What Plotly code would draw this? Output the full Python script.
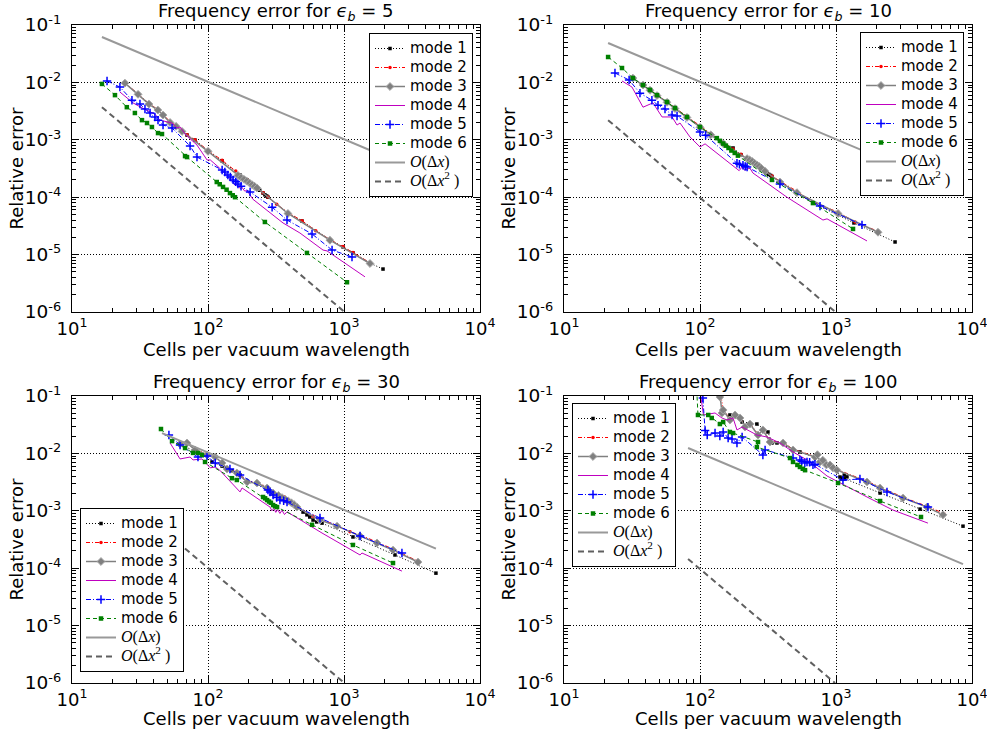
import plotly.graph_objects as go

# ---------------- axis ticks ----------------
X_TICK_VALS = [10, 100, 1000, 10000]
X_TICK_TEXT = ["10<sup>1</sup>", "10<sup>2</sup>", "10<sup>3</sup>", "10<sup>4</sup>"]
Y_TICK_VALS = [1e-6, 1e-5, 1e-4, 1e-3, 1e-2, 1e-1]
Y_TICK_TEXT = ["10<sup>-6</sup>", "10<sup>-5</sup>", "10<sup>-4</sup>",
               "10<sup>-3</sup>", "10<sup>-2</sup>", "10<sup>-1</sup>"]
EPS_VALUES = [5, 10, 30, 100]
SERIES_NAMES = ["mode 1", "mode 2", "mode 3", "mode 4", "mode 5", "mode 6",
                "O(Δx)", "O(Δx²)"]

# ---------------- eps_b = 5 ----------------
e5_m1_x = [24.5, 30.6, 36.8, 42.8, 46.7, 52.6, 58.2, 64.4, 70.1, 80.2, 100, 127, 172, 194, 222, 240, 254, 262, 270, 276, 387, 491, 788, 984, 1164, 1553, 1936]
e5_m1_y = [9.8e-3, 6.3e-3, 4.2e-3, 3.3e-3, 2.7e-3, 2.04e-3, 1.74e-3, 1.42e-3, 1.21e-3, 9.9e-4, 6.4e-4, 4.3e-4, 2.44e-4, 2.0e-4, 1.51e-4, 1.32e-4, 1.18e-4, 1.1e-4, 1.05e-4, 1.0e-4, 5.3e-5, 3.85e-5, 1.8e-5, 1.36e-5, 1.07e-5, 7.1e-6, 5.6e-6]
e5_m2_x = [24.5, 30.6, 36.8, 42.8, 52.6, 58.2, 64.4, 70.1, 80.2, 100, 127, 160, 194, 222, 254, 276, 320, 387, 491, 620, 788, 984, 1164, 1553]
e5_m2_y = [9.9e-3, 6.4e-3, 4.3e-3, 3.35e-3, 2.08e-3, 1.77e-3, 1.45e-3, 1.23e-3, 1.0e-3, 6.5e-4, 4.4e-4, 2.85e-4, 2.02e-4, 1.53e-4, 1.2e-4, 1.01e-4, 7.5e-5, 5.4e-5, 3.9e-5, 2.6e-5, 1.83e-5, 1.38e-5, 1.09e-5, 7.2e-6]
e5_m3_x = [24.5, 30.6, 36.8, 42.8, 46.7, 52.6, 58.2, 64.4, 100, 166, 175, 184, 193, 202, 211, 220, 229, 387, 788, 1553]
e5_m3_y = [9.7e-3, 6.2e-3, 4.2e-3, 3.3e-3, 2.7e-3, 2.0e-3, 1.72e-3, 1.4e-3, 6.3e-4, 2.4e-4, 2.2e-4, 2.05e-4, 1.9e-4, 1.77e-4, 1.65e-4, 1.55e-4, 1.45e-4, 5.2e-5, 1.78e-5, 7.0e-6]
e5_m4_x = [22.5, 28.1, 32.7, 35.6, 40.7, 44.3, 50.0, 54.4, 59.2, 62.3, 68.9, 83.0, 98.4, 104, 122, 153, 158, 163, 172, 178, 186, 194, 214, 356, 474, 701, 750, 1426]
e5_m4_y = [6.8e-3, 4.4e-3, 3.6e-3, 3.3e-3, 2.8e-3, 2.2e-3, 2.04e-3, 1.96e-3, 1.6e-3, 1.67e-3, 1.21e-3, 8.1e-4, 4.45e-4, 4.45e-4, 3.2e-4, 1.84e-4, 1.6e-4, 1.66e-4, 1.42e-4, 1.48e-4, 1.28e-4, 1.3e-4, 9.2e-5, 3.56e-5, 2.38e-5, 1.2e-5, 1.16e-5, 4.1e-6]
e5_m5_x = [18.1, 22.5, 27.6, 31.6, 34.4, 37.5, 40.7, 42.9, 46.7, 54.4, 73.8, 83.0, 127, 133, 140, 146, 153, 160, 166, 175, 204, 296, 381, 582, 817, 1145]
e5_m5_y = [1.06e-2, 8.3e-3, 4.9e-3, 4.2e-3, 3.44e-3, 2.93e-3, 2.5e-3, 2.2e-3, 1.81e-3, 1.6e-3, 7.8e-4, 5.0e-4, 2.98e-4, 2.75e-4, 2.44e-4, 2.25e-4, 2.0e-4, 1.85e-4, 1.7e-4, 1.55e-4, 1.23e-4, 6.7e-5, 4.0e-5, 2.29e-5, 1.2e-5, 9.1e-6]
e5_m6_x = [16.6, 20.7, 25.3, 29.0, 32.7, 35.6, 38.7, 42.9, 45.9, 67.8, 70.1, 116, 122, 129, 137, 145, 152, 158, 262, 534, 1052]
e5_m6_y = [9.4e-3, 6.0e-3, 3.7e-3, 2.93e-3, 2.2e-3, 1.96e-3, 1.67e-3, 1.31e-3, 1.26e-3, 5.2e-4, 5.0e-4, 1.84e-4, 1.68e-4, 1.51e-4, 1.35e-4, 1.18e-4, 1.08e-4, 1.0e-4, 3.7e-5, 1.07e-5, 3.3e-6]
e5_o1_x = [16.6, 2000]
e5_o1_y = [6.17e-2, 5.12e-4]
e5_o2_x = [16.6, 1010]
e5_o2_y = [3.7e-3, 1.0e-6]

# ---------------- eps_b = 10 ----------------
e10_m1_x = [32.1, 38.1, 42.9, 48.3, 57.2, 65.5, 80.2, 100, 120, 148, 175, 200, 222, 262, 300, 310, 320, 330, 338, 677, 1355, 2718]
e10_m1_y = [1.19e-2, 9.0e-3, 7.4e-3, 6.0e-3, 4.56e-3, 3.58e-3, 2.5e-3, 1.7e-3, 1.25e-3, 8.8e-4, 7.2e-4, 5.5e-4, 4.6e-4, 3.6e-4, 2.8e-4, 2.65e-4, 2.5e-4, 2.4e-4, 2.3e-4, 7.9e-5, 3.56e-5, 1.66e-5]
e10_m2_x = [38.1, 42.9, 48.3, 57.2, 65.5, 80.2, 100, 120, 148, 175, 200, 222, 262, 300, 338, 387, 516, 677, 1035, 1380, 2037]
e10_m2_y = [9.1e-3, 7.5e-3, 6.1e-3, 4.6e-3, 3.6e-3, 2.55e-3, 1.7e-3, 1.28e-3, 9.0e-4, 6.9e-4, 5.6e-4, 4.7e-4, 3.7e-4, 2.9e-4, 2.35e-4, 1.9e-4, 1.27e-4, 8.2e-5, 5.5e-5, 3.7e-5, 2.55e-5]
e10_m3_x = [32.1, 38.1, 42.9, 48.3, 57.2, 65.5, 80.2, 100, 120, 148, 222, 232, 242, 252, 262, 272, 282, 300, 387, 516, 1035, 2037]
e10_m3_y = [1.19e-2, 9.0e-3, 7.3e-3, 5.9e-3, 4.5e-3, 3.5e-3, 2.45e-3, 1.65e-3, 1.22e-3, 8.6e-4, 4.7e-4, 4.45e-4, 4.2e-4, 3.9e-4, 3.65e-4, 3.45e-4, 3.2e-4, 2.85e-4, 1.84e-4, 1.2e-4, 5.2e-5, 2.45e-5]
e10_m4_x = [26.7, 31.6, 38.1, 45.1, 52.6, 62.3, 67.8, 71.3, 84.4, 100, 109, 187, 194, 204, 213, 222, 233, 245, 436, 802, 859, 1690]
e10_m4_y = [1.06e-2, 8.3e-3, 3.7e-3, 4.4e-3, 2.5e-3, 2.5e-3, 1.81e-3, 1.96e-3, 1.12e-3, 7.5e-4, 8.5e-4, 3.2e-4, 2.9e-4, 3.36e-4, 2.95e-4, 3.1e-4, 3.2e-4, 2.64e-4, 1.0e-4, 4.0e-5, 4.2e-5, 1.73e-5]
e10_m5_x = [23.7, 30.1, 36.2, 44.3, 49.1, 55.3, 62.3, 67.8, 100, 110, 187, 195, 207, 215, 222, 387, 763, 1553]
e10_m5_y = [1.46e-2, 1.1e-2, 6.5e-3, 4.9e-3, 4.0e-3, 3.44e-3, 2.7e-3, 2.6e-3, 1.37e-3, 1.2e-3, 3.9e-4, 3.75e-4, 3.6e-4, 3.45e-4, 3.36e-4, 1.7e-4, 7.0e-5, 3.3e-5]
e10_m6_x = [21.1, 26.7, 32.1, 38.1, 42.9, 48.3, 57.2, 65.5, 80.2, 100, 133, 140, 148, 155, 162, 170, 180, 190, 338, 677, 1334]
e10_m6_y = [2.77e-2, 1.78e-2, 1.19e-2, 9.0e-3, 7.4e-3, 6.0e-3, 4.56e-3, 3.58e-3, 2.5e-3, 1.67e-3, 1.07e-3, 9.6e-4, 8.6e-4, 7.9e-4, 7.2e-4, 6.5e-4, 5.9e-4, 5.3e-4, 2.0e-4, 7.9e-5, 2.8e-5]
e10_o1_x = [21.1, 2500]
e10_o1_y = [4.85e-2, 4.09e-4]
e10_o2_x = [21.1, 990]
e10_o2_y = [2.2e-3, 1.0e-6]

# ---------------- eps_b = 30 ----------------
e30_m1_x = [62.3, 80.2, 98.4, 107, 127, 150, 172, 194, 229, 272, 301, 381, 451, 500, 534, 560, 592, 630, 689, 1164, 2370, 4742]
e30_m1_y = [1.4e-2, 1.12e-2, 9.2e-3, 7.1e-3, 6.0e-3, 5.0e-3, 4.2e-3, 3.18e-3, 2.9e-3, 2.4e-3, 2.0e-3, 1.5e-3, 1.12e-3, 9.5e-4, 8.5e-4, 7.8e-4, 6.9e-4, 6.4e-4, 6.1e-4, 3.5e-4, 1.7e-4, 8.2e-5]
e30_m2_x = [62.3, 70.1, 80.2, 98.4, 113, 127, 138, 163, 194, 229, 272, 301, 330, 360, 381, 420, 451, 592, 666, 889, 1107, 1312, 1750, 2293, 3500]
e30_m2_y = [1.5e-2, 1.55e-2, 1.2e-2, 9.6e-3, 8.8e-3, 7.0e-3, 5.5e-3, 4.7e-3, 3.3e-3, 3.15e-3, 2.6e-3, 2.1e-3, 1.9e-3, 1.75e-3, 1.6e-3, 1.4e-3, 1.2e-3, 8.0e-4, 7.1e-4, 5.6e-4, 4.3e-4, 3.8e-4, 2.85e-4, 2.15e-4, 1.32e-4]
e30_m3_x = [62.3, 70.1, 80.2, 98.4, 113, 127, 138, 163, 194, 229, 272, 301, 330, 350, 370, 390, 410, 430, 451, 666, 889, 1312, 1750, 2293, 3500]
e30_m3_y = [1.46e-2, 1.52e-2, 1.15e-2, 9.4e-3, 8.65e-3, 6.8e-3, 5.35e-3, 4.56e-3, 3.18e-3, 3.05e-3, 2.5e-3, 2.04e-3, 1.85e-3, 1.7e-3, 1.58e-3, 1.48e-3, 1.38e-3, 1.28e-3, 1.16e-3, 6.9e-4, 5.4e-4, 3.64e-4, 2.75e-4, 2.07e-4, 1.28e-4]
e30_m4_x = [52.6, 62.3, 73.8, 77.6, 90.3, 104, 113, 122, 172, 178, 286, 295, 305, 315, 325, 338, 350, 365, 381, 689, 1312, 1355, 2667]
e30_m4_y = [1.52e-2, 8.0e-3, 8.65e-3, 7.7e-3, 8.0e-3, 5.6e-3, 5.8e-3, 5.1e-3, 2.13e-3, 2.5e-3, 1.16e-3, 1.0e-3, 1.1e-3, 9.4e-4, 1.05e-3, 9.0e-4, 1.02e-3, 8.6e-4, 9.6e-4, 4.1e-4, 1.7e-4, 1.84e-4, 8.9e-5]
e30_m5_x = [51.6, 62.3, 84.4, 98.4, 113, 145, 172, 276, 286, 301, 320, 338, 360, 381, 666, 1312, 2667]
e30_m5_y = [2.09e-2, 1.4e-2, 8.65e-3, 9.0e-3, 6.8e-3, 5.35e-3, 4.2e-3, 2.3e-3, 2.13e-3, 1.88e-3, 1.7e-3, 1.54e-3, 1.5e-3, 1.42e-3, 7.5e-4, 3.64e-4, 1.84e-4]
e30_m6_x = [45.1, 54.4, 67.8, 77.6, 84.4, 90.3, 95.1, 150, 163, 254, 263, 272, 281, 290, 301, 311, 322, 582, 1164, 2293]
e30_m6_y = [2.66e-2, 1.64e-2, 1.24e-2, 1.02e-2, 1.02e-2, 9.4e-3, 7.1e-3, 3.7e-3, 3.44e-3, 1.74e-3, 1.65e-3, 1.54e-3, 1.45e-3, 1.38e-3, 1.26e-3, 1.2e-3, 1.16e-3, 5.7e-4, 2.54e-4, 1.23e-4]
e30_o1_x = [45.9, 4742]
e30_o1_y = [2.26e-2, 2.19e-4]
e30_o2_x = [45.9, 1006]
e30_o2_y = [4.8e-4, 1.0e-6]

# ---------------- eps_b = 100 ----------------
e100_m1_x = [166, 204, 262, 316, 338, 368, 543, 800, 1016, 1069, 1100, 1150, 1204, 1150, 1125, 2109, 4150, 8590]
e100_m1_y = [4.67e-2, 3.52e-2, 3.25e-2, 2.36e-2, 1.52e-2, 1.52e-2, 1.06e-2, 7.5e-3, 5.1e-3, 3.88e-3, 3.6e-3, 3.6e-3, 3.9e-3, 4.2e-3, 3.72e-3, 2.04e-3, 1.07e-3, 5.4e-4]
e100_m2_x = [136, 148, 166, 181, 197, 214, 233, 267, 290, 327, 408, 483, 701, 763, 903, 1016, 1690, 2109, 3112, 4668, 6200]
e100_m2_y = [0.2, 5.9e-2, 3.95e-2, 4.8e-2, 4.3e-2, 3.0e-2, 3.35e-2, 2.15e-2, 2.65e-2, 1.62e-2, 1.56e-2, 1.18e-2, 8.9e-3, 7.3e-3, 6.5e-3, 5.25e-3, 3.27e-3, 2.6e-3, 1.72e-3, 1.2e-3, 9.0e-4]
e100_m3_x = [134, 140, 145, 148, 166, 181, 197, 214, 233, 267, 290, 327, 408, 483, 701, 730, 763, 800, 850, 903, 950, 1016, 1690, 2109, 3112, 4668, 6120]
e100_m3_y = [0.3, 9.6e-2, 5.06e-2, 5.7e-2, 3.82e-2, 4.67e-2, 4.14e-2, 2.88e-2, 3.25e-2, 2.09e-2, 2.56e-2, 1.58e-2, 1.52e-2, 1.15e-2, 8.65e-3, 9.5e-3, 7.1e-3, 7.6e-3, 6.3e-3, 6.3e-3, 5.6e-3, 5.1e-3, 3.18e-3, 2.5e-3, 1.67e-3, 1.16e-3, 8.5e-4]
e100_m4_x = [95, 106, 129, 145, 158, 175, 187, 204, 262, 311, 387, 483, 612, 859, 1690, 2624, 4742]
e100_m4_y = [0.3, 4.67e-2, 5.06e-2, 4.14e-2, 3.82e-2, 4.14e-2, 2.56e-2, 2.88e-2, 2.09e-2, 1.93e-2, 1.52e-2, 1.06e-2, 7.7e-3, 4.04e-3, 1.74e-3, 1.03e-3, 6.1e-4]
e100_m5_x = [100, 105, 109, 113, 129, 140, 148, 161, 172, 187, 204, 290, 301, 483, 543, 560, 590, 612, 640, 677, 700, 1125, 1500, 2371, 4742]
e100_m5_y = [0.3, 9.2e-2, 2.5e-2, 2.09e-2, 2.26e-2, 2.01e-2, 2.36e-2, 1.85e-2, 1.78e-2, 1.52e-2, 1.93e-2, 9.4e-3, 1.15e-2, 8.3e-3, 7.7e-3, 7.3e-3, 6.8e-3, 7.1e-3, 7.0e-3, 6.3e-3, 6.5e-3, 3.44e-3, 3.58e-3, 2.13e-3, 1.16e-3]
e100_m6_x = [93, 96.6, 115, 122, 140, 148, 166, 175, 267, 262, 459, 483, 520, 543, 570, 592, 1035, 2109, 4217]
e100_m6_y = [0.3, 4.67e-2, 4.67e-2, 4.14e-2, 3.25e-2, 3.52e-2, 2.36e-2, 2.26e-2, 1.58e-2, 1.29e-2, 8.3e-3, 7.1e-3, 6.3e-3, 5.8e-3, 5.4e-3, 5.1e-3, 3.05e-3, 1.48e-3, 7.8e-4]
e100_o1_x = [81.7, 8590]
e100_o1_y = [1.24e-2, 1.18e-4]
e100_o2_x = [81.7, 984]
e100_o2_y = [1.45e-4, 1.0e-6]

PANELS = [
    [(e5_m1_x, e5_m1_y), (e5_m2_x, e5_m2_y), (e5_m3_x, e5_m3_y), (e5_m4_x, e5_m4_y),
     (e5_m5_x, e5_m5_y), (e5_m6_x, e5_m6_y), (e5_o1_x, e5_o1_y), (e5_o2_x, e5_o2_y)],
    [(e10_m1_x, e10_m1_y), (e10_m2_x, e10_m2_y), (e10_m3_x, e10_m3_y), (e10_m4_x, e10_m4_y),
     (e10_m5_x, e10_m5_y), (e10_m6_x, e10_m6_y), (e10_o1_x, e10_o1_y), (e10_o2_x, e10_o2_y)],
    [(e30_m1_x, e30_m1_y), (e30_m2_x, e30_m2_y), (e30_m3_x, e30_m3_y), (e30_m4_x, e30_m4_y),
     (e30_m5_x, e30_m5_y), (e30_m6_x, e30_m6_y), (e30_o1_x, e30_o1_y), (e30_o2_x, e30_o2_y)],
    [(e100_m1_x, e100_m1_y), (e100_m2_x, e100_m2_y), (e100_m3_x, e100_m3_y), (e100_m4_x, e100_m4_y),
     (e100_m5_x, e100_m5_y), (e100_m6_x, e100_m6_y), (e100_o1_x, e100_o1_y), (e100_o2_x, e100_o2_y)],
]

# ---------------- styles ----------------
STYLES = [
    dict(mode="lines+markers", line=dict(color="black", width=1, dash="1px,2px"),
         marker=dict(symbol="square", size=3.5, color="black")),
    dict(mode="lines+markers", line=dict(color="red", width=1, dash="4px,2px,1px,2px"),
         marker=dict(symbol="circle", size=3.5, color="red")),
    dict(mode="lines+markers", line=dict(color="#808080", width=1.5),
         marker=dict(symbol="diamond", size=6, color="#808080", line=dict(color="#a8a8a8", width=1))),
    dict(mode="lines", line=dict(color="#bf00bf", width=1)),
    dict(mode="lines+markers", line=dict(color="blue", width=1, dash="5px,2px,1px,2px"),
         marker=dict(symbol="cross-thin", size=6, color="blue", line=dict(color="blue", width=1.5))),
    dict(mode="lines+markers", line=dict(color="green", width=1, dash="4px,3px"),
         marker=dict(symbol="square", size=4.5, color="green")),
    dict(mode="lines", line=dict(color="#999999", width=2)),
    dict(mode="lines", line=dict(color="#606060", width=2, dash="6px,4px")),
]

LEGEND_LABELS = [
    '<span style="font-size:15px">mode 1</span>',
    '<span style="font-size:15px">mode 2</span>',
    '<span style="font-size:15px">mode 3</span>',
    '<span style="font-size:15px">mode 4</span>',
    '<span style="font-size:15px">mode 5</span>',
    '<span style="font-size:15px">mode 6</span>',
    '<span style="font-size:16px;font-family:\'Liberation Serif\'"><i>O</i>(Δ<i>x</i>)</span>',
    '<span style="font-size:16px;font-family:\'Liberation Serif\'"><i>O</i>(Δ<i>x</i><sup>2</sup> )</span>',
]

W, H = 987, 730
X_DOM = [[72 / W, 480 / W], [564 / W, 972 / W]]
Y_DOM = [[1 - 312 / H, 1 - 25 / H], [1 - 683 / H, 1 - 396 / H]]
XTITLE_OFFSET = [37, 35.5]

fig = go.Figure()

for p, series in enumerate(PANELS):
    ax = "" if p == 0 else str(p + 1)
    leg = "legend" if p == 0 else f"legend{p + 1}"
    for k, (xs, ys) in enumerate(series):
        st = STYLES[k]
        fig.add_trace(go.Scatter(
            x=xs, y=ys, name=LEGEND_LABELS[k], legend=leg,
            xaxis="x" + ax, yaxis="y" + ax, showlegend=True, **st))

minor_x = [m * 10 ** e for e in range(1, 4) for m in range(2, 10)]
minor_y = [m * 10.0 ** e for e in range(-6, -1) for m in range(2, 10)]

layout = dict(
    width=W, height=H, margin=dict(l=0, r=0, t=0, b=0, autoexpand=False),
    paper_bgcolor="white", plot_bgcolor="white",
    font=dict(family="DejaVu Sans", color="black"),
    annotations=[],
)

for p in range(4):
    col, row = p % 2, p // 2
    ax = "" if p == 0 else str(p + 1)
    layout["xaxis" + ax] = dict(
        type="log", range=[1, 4], domain=X_DOM[col], anchor="y" + ax, automargin=False,
        tickmode="array", tickvals=X_TICK_VALS, ticktext=X_TICK_TEXT,
        ticks="inside", ticklen=7, tickwidth=1, tickcolor="black",
        minor=dict(tickmode="array", tickvals=minor_x, ticks="inside", ticklen=3.5,
                   tickcolor="black", tickwidth=1, showgrid=False),
        showline=True, linecolor="black", linewidth=1.2, mirror="allticks",
        showgrid=True, gridcolor="black", gridwidth=0.8, griddash="1px,2px",
        zeroline=False, tickfont=dict(family="DejaVu Sans", size=18, color="black"),
        ticklabelstandoff=0, ticklabeloverflow="allow",
    )
    layout["yaxis" + ax] = dict(
        type="log", range=[-6, -1], domain=Y_DOM[row], anchor="x" + ax, automargin=False,
        tickmode="array", tickvals=Y_TICK_VALS, ticktext=Y_TICK_TEXT,
        ticks="inside", ticklen=7, tickwidth=1, tickcolor="black",
        minor=dict(tickmode="array", tickvals=minor_y, ticks="inside", ticklen=3.5,
                   tickcolor="black", tickwidth=1, showgrid=False),
        showline=True, linecolor="black", linewidth=1.2, mirror="allticks",
        showgrid=True, gridcolor="black", gridwidth=0.8, griddash="1px,2px",
        zeroline=False, tickfont=dict(family="DejaVu Sans", size=18.5, color="black"),
        ticklabelstandoff=6, ticklabeloverflow="allow",
    )
    xc = (X_DOM[col][0] + X_DOM[col][1]) / 2
    yc = (Y_DOM[row][0] + Y_DOM[row][1]) / 2
    layout["annotations"].append(dict(
        text=f"Frequency error for <i>ϵ</i><sub><i>b</i></sub> = {EPS_VALUES[p]}",
        x=xc, y=Y_DOM[row][1], xref="paper", yref="paper", xanchor="center", yanchor="bottom",
        showarrow=False, font=dict(family="DejaVu Sans", size=18, color="black"), yshift=-1))
    layout["annotations"].append(dict(
        text="Cells per vacuum wavelength", x=xc, y=Y_DOM[row][0] - XTITLE_OFFSET[row] / H,
        xref="paper", yref="paper", xanchor="center", yanchor="middle", showarrow=False,
        font=dict(family="DejaVu Sans", size=18, color="black")))
    layout["annotations"].append(dict(
        text="Relative error", x=X_DOM[col][0] - 56 / W, y=yc,
        xref="paper", yref="paper", xanchor="center", yanchor="middle", textangle=-90,
        showarrow=False, font=dict(family="DejaVu Sans", size=18, color="black")))

LEG_COMMON = dict(bgcolor="white", bordercolor="black", borderwidth=1,
                  font=dict(family="DejaVu Sans", size=11, color="black"),
                  itemwidth=30, tracegroupgap=0)
layout["legend"] = dict(x=473 / W, y=1 - 33 / H, xanchor="right", yanchor="top", **LEG_COMMON)
layout["legend2"] = dict(x=964 / W, y=1 - 32 / H, xanchor="right", yanchor="top", **LEG_COMMON)
layout["legend3"] = dict(x=80 / W, y=1 - 672 / H, xanchor="left", yanchor="bottom", **LEG_COMMON)
layout["legend4"] = dict(x=572 / W, y=1 - 403 / H, xanchor="left", yanchor="top", **LEG_COMMON)

fig.update_layout(**layout)
fig.write_html("out.html")
